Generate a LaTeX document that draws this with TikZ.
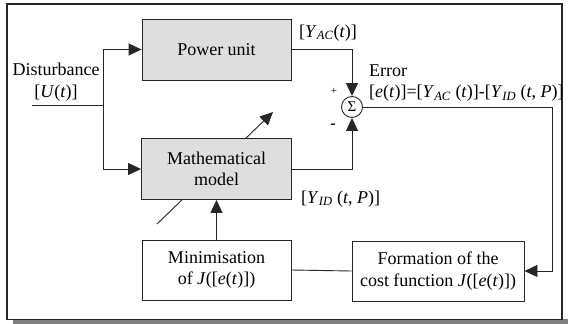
\documentclass[tikz,border=0pt]{standalone}
\usepackage{fontspec}
\setmainfont{Liberation Serif}
\usetikzlibrary{arrows.meta,calc}
\begin{document}
\begin{tikzpicture}[x=1pt,y=-1pt,
  txt/.style={font=\fontsize{18}{21.5}\selectfont},
  blk/.style={txt,draw=black!85,line width=0.9pt,align=center,inner sep=0pt},
  gblk/.style={blk,fill=black!13},
  lbl/.style={txt,inner sep=0pt,anchor=west},
  arr/.style={-{Triangle[length=13pt,width=12pt]}},
  wire/.style={line width=0.9pt,draw=black!85}]
\useasboundingbox (0,0) rectangle (568,324);
\fill[black!50] (13,319) rectangle (568,324);
\draw[line width=1.4pt,draw=black!85,fill=white] (7,4) rectangle (562,319.5);
% diagonal arrow (behind model block)
\coordinate (d1) at (157,224);
\coordinate (d2) at (273,112);
\draw[wire,arr] (d1) -- (d2);
% blocks
\node[gblk,minimum width=149pt,minimum height=61pt] (pu) at (216.5,49.5) {Power unit};
\node[gblk,minimum width=150pt,minimum height=61pt] (mm) at (216.5,169) {Mathematical\\model};
\node[blk,fill=white,minimum width=149pt,minimum height=60pt] (mn) at (216.5,270) {Minimisation\\of \textit{J}([\textit{e}(\textit{t})])};
\node[blk,fill=white,minimum width=172pt,minimum height=60pt] (fc) at (438,271) {Formation of the\\cost function \textit{J}([\textit{e}(\textit{t})])};
\node[circle,draw=black!85,line width=0.9pt,minimum size=21pt,inner sep=0pt,font=\fontsize{15}{15}\selectfont] (sum) at (352,107) {Σ};
% connectors
\coordinate (in) at (32,105);
\coordinate (split) at (103,105);
\draw[wire] (in) -- (split);
\draw[wire,arr] (split) |- (pu.west);
\draw[wire,arr] (split) |- (mm.west);
\draw[wire,arr] (pu.east) -| (sum.north);
\draw[wire,arr] (mm.east) -| (sum.south);
\coordinate (rc) at (552,271);
\draw[wire,arr] (sum.east) -| (rc) -- (fc.east);
\draw[wire] (fc.west) -- (mn.east);
\draw[wire,arr] (mn.north) -- (mm.south);
% labels
\node[txt,align=center,inner sep=0pt] (dist) at (56,82) {Disturbance\\{}[\textit{U}(\textit{t})]};
\node[lbl] (yac) at (299,33) {[\textit{Y}\textsubscript{\textit{AC}}(\textit{t})]};
\node[lbl,align=left] (err) at (369,83) {Error\\{}[\textit{e}(\textit{t})]=[\textit{Y}\textsubscript{\textit{AC}} (\textit{t})]-[\textit{Y}\textsubscript{\textit{ID}} (\textit{t}, \textit{P})]};
\node[lbl] (yid) at (301,199) {[\textit{Y}\textsubscript{\textit{ID}} (\textit{t}, \textit{P})]};
\node[inner sep=0pt,font=\fontsize{11}{11}\selectfont] (plus) at (334,91) {+};
\node[inner sep=0pt,font=\bfseries\fontsize{16}{16}\selectfont] (minus) at (333,126) {-};
\end{tikzpicture}
\end{document}
